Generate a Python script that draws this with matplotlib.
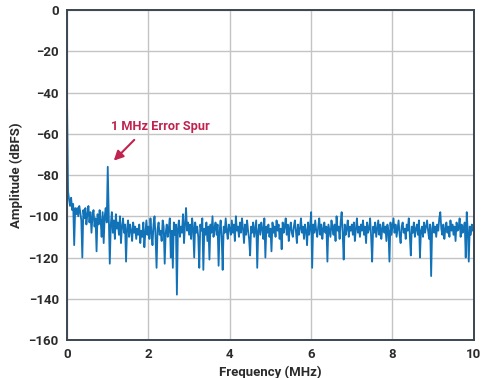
import numpy as np
import matplotlib.pyplot as plt

# amplitude, 0.025 MHz steps from 0 to 10 MHz
amp = [
    -46, -88, -92, -95, -91, -97, -94, -114, -96, -99,
    -96, -100, -95, -98, -102, -120, -97, -101, -96, -104,
    -99, -95, -103, -98, -108, -100, -97, -105, -101, -117,
    -99, -104, -97, -102, -110, -98, -113, -100, -96, -103,
    # 1 MHz
    -76, -100, -123, -104, -98, -108, -102, -111, -99, -106,
    -103, -109, -100, -113, -105, -101, -108, -104, -122, -106,
    -102, -110, -104, -107, -112, -103, -108, -105, -111, -106,
    -109, -104, -113, -107, -110, -103, -115, -108, -102, -109,
    # 2 MHz
    -105, -111, -101, -108, -114, -104, -100, -110, -125, -106,
    -103, -109, -107, -112, -102, -105, -123, -108, -104, -110,
    -106, -101, -120, -107, -125, -103, -109, -104, -138, -106,
    -102, -110, -105, -108, -99, -113, -104, -96, -107, -103,
    # 3 MHz
    -109, -104, -111, -101, -106, -120, -103, -108, -105, -110,
    -125, -104, -107, -101, -126, -106, -109, -103, -112, -105,
    -121, -104, -108, -100, -110, -106, -103, -109, -104, -124,
    -107, -102, -110, -126, -105, -108, -101, -107, -111, -104,
    # 4 MHz
    -106, -109, -102, -108, -104, -112, -100, -107, -105, -110,
    -103, -108, -101, -106, -113, -104, -109, -102, -107, -111,
    -119, -105, -108, -103, -110, -106, -102, -125, -107, -104,
    -109, -103, -106, -111, -101, -120, -105, -108, -104, -110,
    # 5 MHz
    -106, -117, -103, -108, -105, -110, -102, -107, -104, -111,
    -106, -116, -103, -108, -105, -101, -109, -104, -112, -106,
    -103, -108, -110, -105, -102, -107, -113, -104, -109, -106,
    -101, -108, -105, -111, -104, -107, -114, -103, -109, -105,
    # 6 MHz
    -98, -125, -104, -108, -102, -107, -110, -105, -101, -109,
    -104, -111, -106, -103, -108, -105, -122, -104, -107, -110,
    -102, -106, -109, -104, -112, -100, -107, -105, -111, -103,
    -98, -108, -121, -104, -109, -106, -102, -110, -105, -107,
    # 7 MHz
    -104, -109, -103, -112, -106, -101, -108, -105, -110, -104,
    -107, -102, -109, -105, -113, -103, -108, -106, -101, -110,
    -122, -105, -108, -103, -110, -106, -102, -109, -104, -111,
    -106, -103, -108, -105, -112, -104, -107, -122, -103, -109,
    # 8 MHz
    -105, -101, -108, -104, -110, -106, -102, -109, -113, -105,
    -103, -108, -106, -111, -104, -107, -101, -109, -119, -105,
    -108, -103, -110, -106, -104, -109, -102, -120, -107, -105,
    -110, -103, -108, -105, -102, -107, -111, -104, -129, -106,
    # 9 MHz
    -103, -108, -105, -110, -104, -107, -101, -98, -106, -109,
    -104, -111, -106, -103, -108, -105, -110, -102, -107, -104,
    -109, -105, -112, -103, -107, -106, -101, -110, -104, -108,
    -106, -103, -120, -98, -107, -122, -105, -109, -104, -107,
    -106,
]
freq = np.linspace(0, 10, len(amp))

yticks = [0, -20, -40, -60, -80, -100, -120, -140, -160]
xticks = [0, 2, 4, 6, 8, 10]

plt.rcParams['font.family'] = ['Roboto', 'DejaVu Sans']
fig = plt.figure(figsize=(4.86, 3.78), dpi=100)
ax = fig.add_axes([0.138, 0.1005, 0.837, 0.873])

ax.plot(freq, amp, color='#1172b8', lw=1.3)

ax.set_xlim(0, 10)
ax.set_ylim(-160, 0)
ax.set_xticks(xticks)
ax.set_yticks(yticks)
ax.grid(True, color='#c4c4c4', lw=1.0)
ax.set_axisbelow(True)
ax.tick_params(length=0, pad=6, labelsize=9.5, colors='#2b2b2b')
for lab in ax.get_xticklabels() + ax.get_yticklabels():
    lab.set_fontweight('bold')
for s in ax.spines.values():
    s.set_color('#3b4652')
    s.set_linewidth(1.4)

ax.set_xlabel('Frequency (MHz)', fontsize=9.5, fontweight='bold', color='#2b2b2b', labelpad=3)
ax.set_ylabel('Amplitude (dBFS)', fontsize=9.5, fontweight='bold', color='#2b2b2b', labelpad=4)

ax.annotate('', xy=(1.1, -74), xytext=(1.7, -62),
            arrowprops=dict(arrowstyle='-|>', color='#c0234e', lw=1.5, mutation_scale=14))
ax.text(1.08, -56.5, '1 MHz Error Spur', color='#c0234e', fontsize=9.2,
        fontweight='bold', va='center', ha='left')

fig.savefig('out.png', dpi=100)
